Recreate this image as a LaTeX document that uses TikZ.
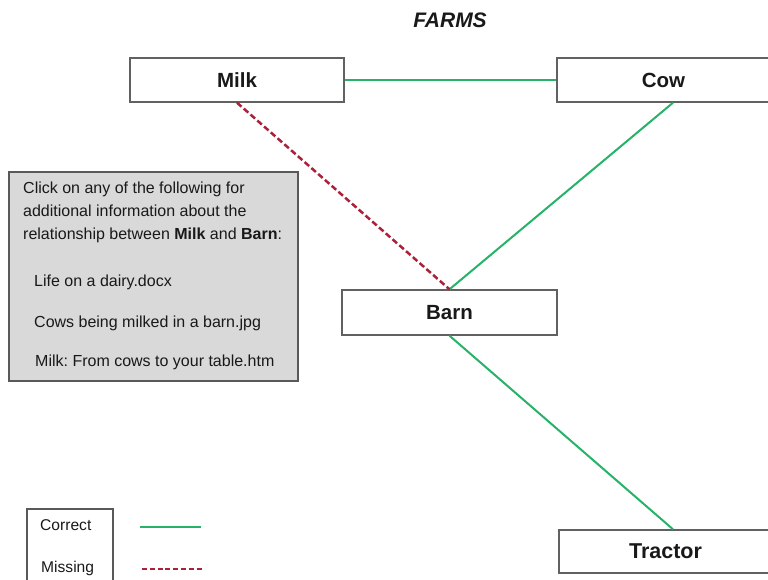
\documentclass[tikz,border=0pt]{standalone}
\usepackage{fontspec}
\setmainfont{Liberation Sans}
\frenchspacing
\begin{document}
\begin{tikzpicture}[x=1pt,y=-1pt,
  conceptbox/.style={draw=black!62,line width=1.4pt,fill=white,rectangle,
    inner sep=0pt,font=\fontsize{20.5}{24}\selectfont\bfseries,text=black!90},
  correctlink/.style={draw=linkgreen,line width=2pt},
  missinglink/.style={draw=linkred,line width=2.5pt,dash pattern=on 6pt off 3pt},
  infotext/.style={font=\fontsize{16}{22.5}\selectfont,text=black!90,inner sep=0pt},
  legendtext/.style={font=\fontsize{15.6}{18}\selectfont,text=black!90,inner sep=0pt}]
\definecolor{linkgreen}{RGB}{38,178,104}
\definecolor{linkred}{RGB}{172,32,56}
\definecolor{infogray}{RGB}{217,217,217}
\useasboundingbox (0,0) rectangle (768,580);

% title
\node[font=\fontsize{21}{24}\selectfont\bfseries\itshape,text=black!90] (title) at (450,20) {FARMS};

% concept boxes
\node[conceptbox,minimum width=214pt,minimum height=44pt] (milk) at (237,80) {Milk};
\node[conceptbox,minimum width=213pt,minimum height=44pt] (cow) at (663.5,80) {Cow};
\node[conceptbox,minimum width=215pt,minimum height=45pt] (barn) at (449.5,312.5) {Barn};
\node[conceptbox,minimum width=213pt,minimum height=43pt,font=\fontsize{21.5}{24}\selectfont\bfseries] (tractor) at (665.5,551.5) {Tractor};

% links between concepts
\draw[correctlink] (milk.east) -- (cow.west);
\draw[correctlink] ([xshift=9.5pt]cow.south) -- (barn.north);
\draw[missinglink] (milk.south) -- (barn.north);
\draw[correctlink] (barn.south) -- ([xshift=7.5pt]tractor.north);

% information panel
\node[draw=black!65,line width=1.2pt,fill=infogray,minimum width=289pt,minimum height=209pt,inner sep=0pt] (info) at (153.5,276.5) {};
\node[infotext,anchor=base west,align=left] (infohead) at (23,239)
  {Click on any of the following for\\additional information about the\\relationship between \textbf{Milk} and \textbf{Barn}:};
\node[infotext,anchor=base west] (doc1) at (34,286) {Life on a dairy.docx};
\node[infotext,anchor=base west] (doc2) at (34,327) {Cows being milked in a barn.jpg};
\node[infotext,anchor=base west] (doc3) at (35,366) {Milk: From cows to your table.htm};

% legend
\draw[black!65,line width=1.2pt] (27,595) -- (27,509) -- (113,509) -- (113,595);
\node[legendtext,anchor=base west] (lcorrect) at (40,530.5) {Correct};
\node[legendtext,anchor=base west] (lmissing) at (41,572.5) {Missing};
\coordinate (ca) at (140,527);
\coordinate (cb) at (201,527);
\coordinate (ma) at (142,569);
\coordinate (mb) at (204,569);
\draw[correctlink] (ca) -- (cb);
\draw[missinglink,line width=2.2pt,dash pattern=on 5pt off 2.8pt] (ma) -- (mb);
\end{tikzpicture}
\end{document}
